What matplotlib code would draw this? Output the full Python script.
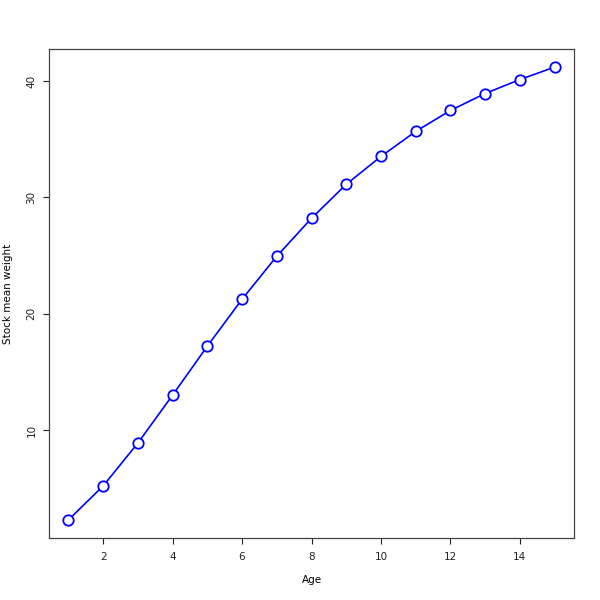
import matplotlib
matplotlib.use("Agg")
import matplotlib.pyplot as plt

age = [1, 2, 3, 4, 5, 6, 7, 8, 9, 10, 11, 12, 13, 14, 15]
weight = [2.27, 5.19, 8.88, 13.0, 17.21, 21.24, 24.94, 28.2, 31.12,
          33.52, 35.67, 37.47, 38.93, 40.13, 41.2]
x_ticks = [2, 4, 6, 8, 10, 12, 14]
y_ticks = [10, 20, 30, 40]

fig = plt.figure(figsize=(6, 6), dpi=100)
ax = fig.add_axes([49 / 600, 1 - 538 / 600, 525 / 600, 489 / 600])

ax.plot(age, weight, color="blue", lw=1.2, marker="o", markersize=7.5,
        markerfacecolor="white", markeredgecolor="blue", markeredgewidth=1.3)

# R-style 4% padding
xr = max(age) - min(age)
yr = max(weight) - min(weight)
ax.set_xlim(min(age) - 0.04 * xr, max(age) + 0.04 * xr)
ax.set_ylim(min(weight) - 0.04 * yr, max(weight) + 0.04 * yr)

ax.set_xticks(x_ticks)
ax.set_yticks(y_ticks)
ax.tick_params(direction="out", length=4, width=0.8, labelsize=7.5, colors="#222222")
ax.tick_params(axis="x", pad=6)
ax.tick_params(axis="y", pad=5)
for lab in ax.get_yticklabels():
    lab.set_rotation(90)
    lab.set_va("center")
for s in ax.spines.values():
    s.set_color("#444444")
    s.set_linewidth(0.9)

ax.set_xlabel("Age", fontsize=7.5, va="center")
ax.set_ylabel("Stock mean weight", fontsize=7.5, va="center")
ax.xaxis.set_label_coords(0.5, -42 / 489)
ax.yaxis.set_label_coords(-41 / 525, 0.5)

fig.savefig("out.png", dpi=100)
